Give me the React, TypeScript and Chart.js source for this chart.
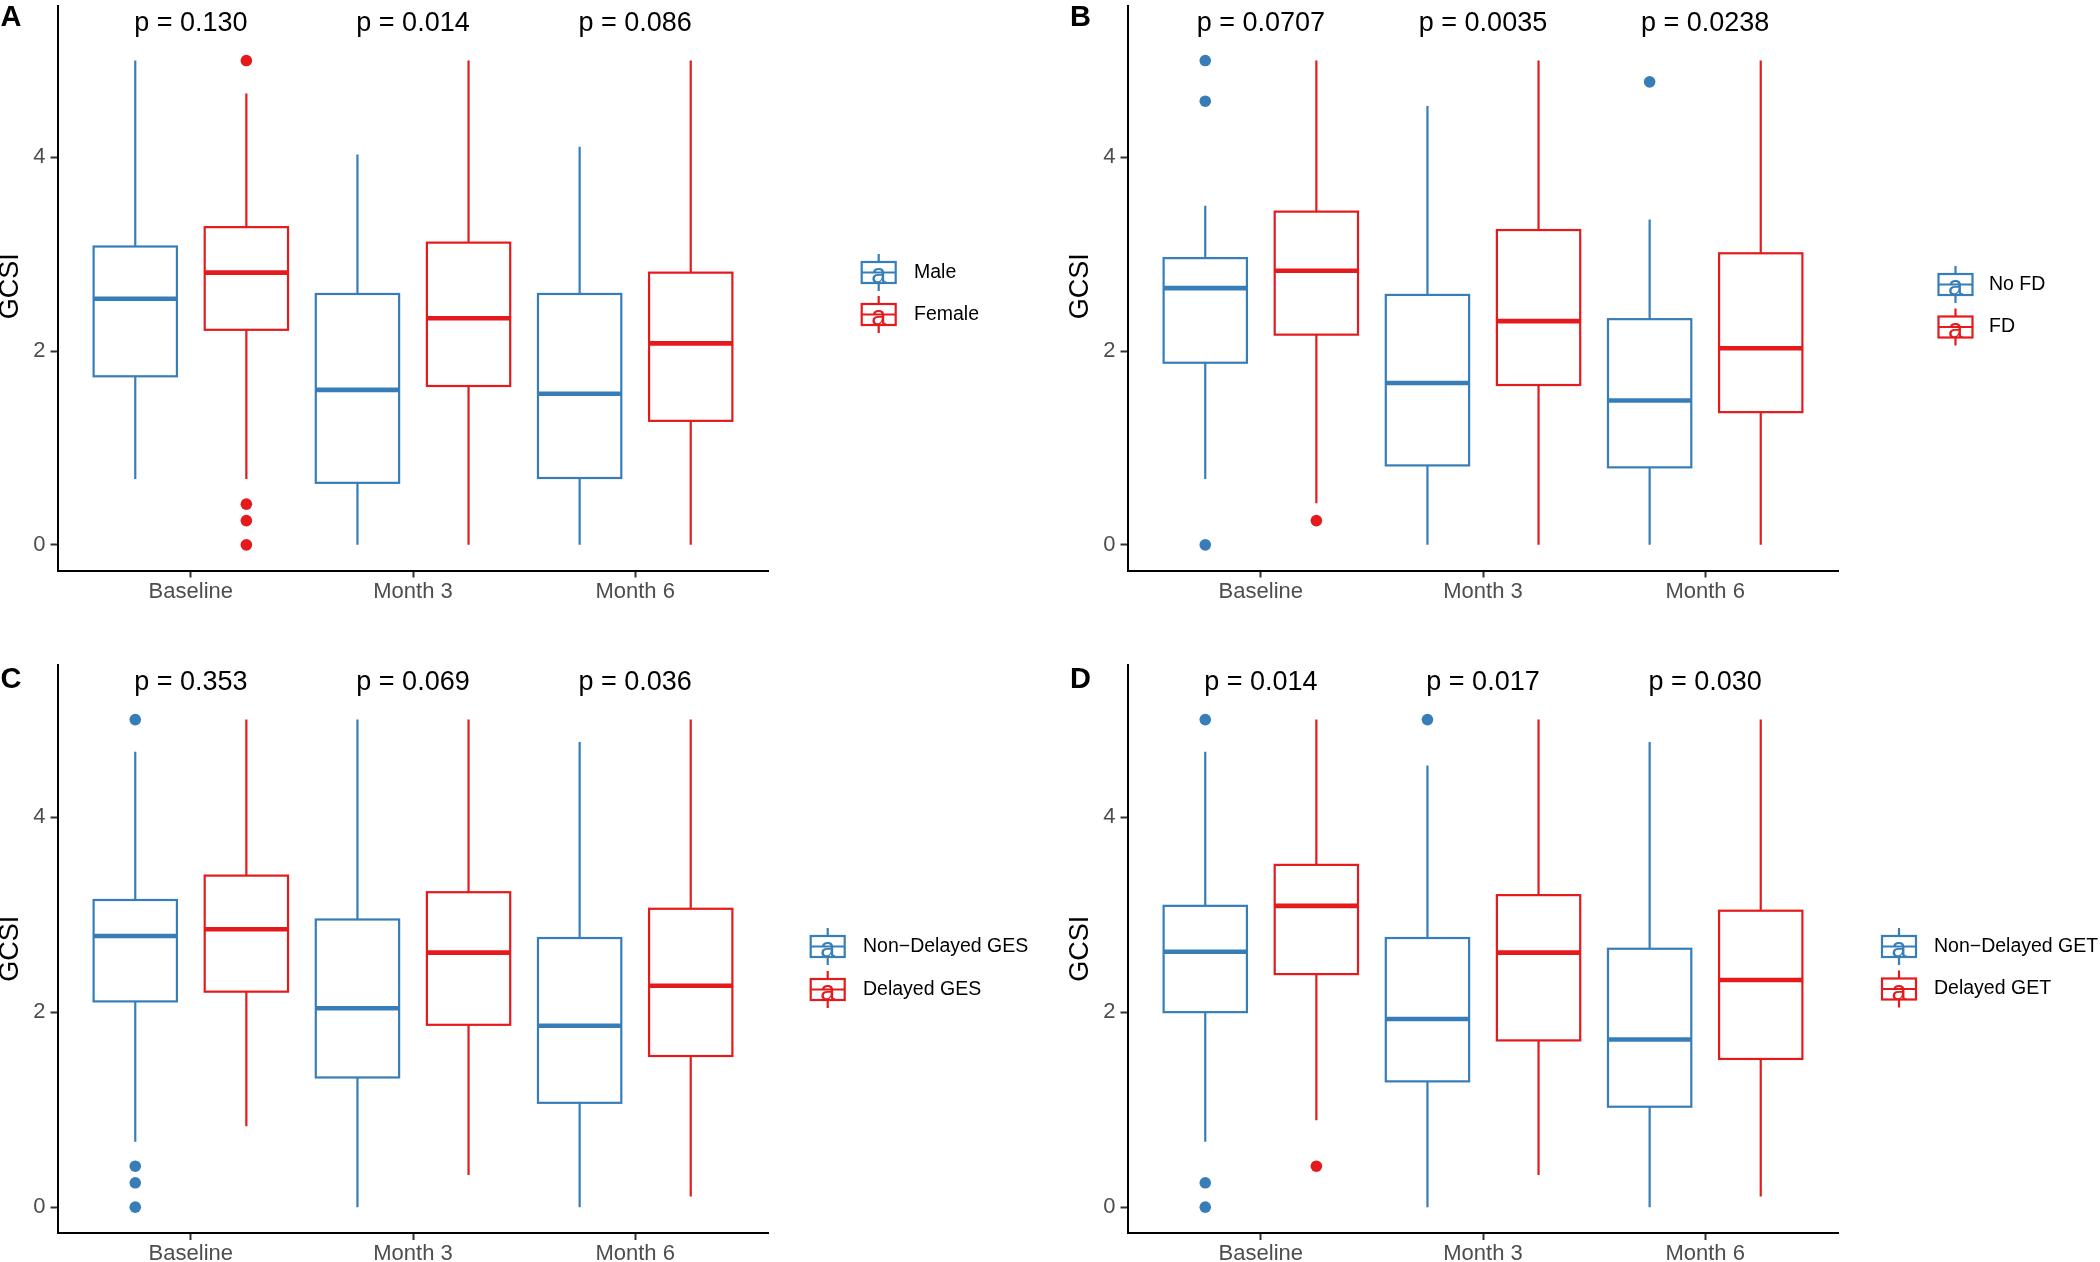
import React, { useEffect, useRef } from "react";
import { Chart, registerables } from "chart.js";

Chart.register(...registerables);

const FONT = "'Liberation Sans', Arial, Helvetica, sans-serif";
const BLUE = "#377EB8";
const RED = "#E41A1C";

const categories = ["Baseline", "Month 3", "Month 6"];
const yTicks = [0, 2, 4];
const pLabelY = 5.3;

// five-number summaries per category: [lower whisker, Q1, median, Q3, upper whisker]
const aMale = [[0.68, 1.74, 2.54, 3.08, 5.0], [0, 0.64, 1.6, 2.59, 4.03], [0, 0.69, 1.56, 2.59, 4.11]];
const aFemale = [[0.68, 2.22, 2.81, 3.28, 4.66], [0, 1.64, 2.34, 3.12, 5.0], [0, 1.28, 2.08, 2.81, 5.0]];
const aMaleOut = [[], [], []];
const aFemaleOut = [[5.0, 0.42, 0.25, 0], [], []];
const aP = ["p = 0.130", "p = 0.014", "p = 0.086"];
const aGroups = ["Male", "Female"];

const bNoFD = [[0.68, 1.88, 2.65, 2.96, 3.5], [0, 0.82, 1.67, 2.58, 4.53], [0, 0.8, 1.49, 2.33, 3.36]];
const bFD = [[0.43, 2.17, 2.83, 3.44, 5.0], [0, 1.65, 2.31, 3.25, 5.0], [0, 1.37, 2.03, 3.01, 5.0]];
const bNoFDOut = [[5.0, 4.58, 0], [], [4.78]];
const bFDOut = [[0.25], [], []];
const bP = ["p = 0.0707", "p = 0.0035", "p = 0.0238"];
const bGroups = ["No FD", "FD"];

const cNonDelayed = [[0.67, 2.11, 2.78, 3.15, 4.67], [0, 1.33, 2.04, 2.95, 5.0], [0, 1.07, 1.86, 2.76, 4.77]];
const cDelayed = [[0.83, 2.21, 2.85, 3.4, 5.0], [0.33, 1.87, 2.61, 3.23, 5.0], [0.11, 1.55, 2.27, 3.06, 5.0]];
const cNonDelayedOut = [[5.0, 0.42, 0.25, 0], [], []];
const cDelayedOut = [[], [], []];
const cP = ["p = 0.353", "p = 0.069", "p = 0.036"];
const cGroups = ["Non\u2212Delayed GES", "Delayed GES"];

const dNonDelayed = [[0.67, 2.0, 2.62, 3.09, 4.67], [0, 1.29, 1.93, 2.76, 4.53], [0, 1.03, 1.72, 2.65, 4.77]];
const dDelayed = [[0.89, 2.39, 3.09, 3.51, 5.0], [0.33, 1.71, 2.61, 3.2, 5.0], [0.11, 1.52, 2.33, 3.04, 5.0]];
const dNonDelayedOut = [[5.0, 0.25, 0], [5.0], []];
const dDelayedOut = [[0.42], [], []];
const dP = ["p = 0.014", "p = 0.017", "p = 0.030"];
const dGroups = ["Non\u2212Delayed GET", "Delayed GET"];

type PanelCfg = {
  letter: string;
  off: { x: number; y: number };
  plot: { l: number; t: number; r: number; b: number };
  letterPos: { x: number; y: number };
  iconX: number;
  textX: number;
  rows: number[];
  stats: number[][][];
  outs: number[][][];
  pLabels: string[];
  groups: string[];
};

const panels: PanelCfg[] = [
  {
    letter: "A", off: { x: 0, y: 0 }, plot: { l: 57.5, t: 2, r: 768.5, b: 570.5 },
    letterPos: { x: 0.5, y: 26 }, iconX: 861.7, textX: 914, rows: [272.5, 314.5],
    stats: [aMale, aFemale], outs: [aMaleOut, aFemaleOut], pLabels: aP, groups: aGroups,
  },
  {
    letter: "B", off: { x: 1050, y: 0 }, plot: { l: 1127.5, t: 2, r: 1838.5, b: 570.5 },
    letterPos: { x: 1070, y: 26 }, iconX: 1938.5, textX: 1989, rows: [284.5, 327],
    stats: [bNoFD, bFD], outs: [bNoFDOut, bFDOut], pLabels: bP, groups: bGroups,
  },
  {
    letter: "C", off: { x: 0, y: 631 }, plot: { l: 57.5, t: 664.5, r: 768.5, b: 1233 },
    letterPos: { x: 0.5, y: 688 }, iconX: 810.7, textX: 863, rows: [946.5, 989.5],
    stats: [cNonDelayed, cDelayed], outs: [cNonDelayedOut, cDelayedOut], pLabels: cP, groups: cGroups,
  },
  {
    letter: "D", off: { x: 1050, y: 631 }, plot: { l: 1127.5, t: 664.5, r: 1838.5, b: 1233 },
    letterPos: { x: 1070, y: 688 }, iconX: 1882, textX: 1934, rows: [946.5, 989],
    stats: [dNonDelayed, dDelayed], outs: [dNonDelayedOut, dDelayedOut], pLabels: dP, groups: dGroups,
  },
];

const COLORS = [BLUE, RED];
const DODGE = [-0.25, 0.25];
const HALF = 0.1875;
const W = 1050;
const H = 631;

function Panel({ cfg }: { cfg: PanelCfg }) {
  const ref = useRef<HTMLCanvasElement | null>(null);
  useEffect(() => {
    const canvas = ref.current;
    if (!canvas) return;
    const yWidth = cfg.plot.l - cfg.off.x;
    const xHeight = cfg.off.y + H - cfg.plot.b;

    const datasets = cfg.outs.map((groupOut, g) => ({
      label: cfg.groups[g],
      data: groupOut.flatMap((vals, i) => vals.map((v) => ({ x: i + 1 + DODGE[g], y: v }))),
      backgroundColor: COLORS[g],
      borderColor: COLORS[g],
      borderWidth: 0,
      pointRadius: 5.8,
      pointHoverRadius: 5.8,
    }));

    const custom = {
      id: "boxCustom",
      beforeDatasetsDraw(chart: any) {
        const ctx = chart.ctx;
        const xs = chart.scales.x;
        const ys = chart.scales.y;
        ctx.save();
        cfg.stats.forEach((groupStats, g) => {
          groupStats.forEach((s, i) => {
            const c = i + 1 + DODGE[g];
            const xl = xs.getPixelForValue(c - HALF);
            const xr = xs.getPixelForValue(c + HALF);
            const xc = xs.getPixelForValue(c);
            const [lo, q1, med, q3, hi] = s.map((v) => ys.getPixelForValue(v));
            ctx.strokeStyle = COLORS[g];
            ctx.lineWidth = 2.2;
            ctx.lineCap = "butt";
            ctx.beginPath();
            ctx.moveTo(xc, hi);
            ctx.lineTo(xc, q3);
            ctx.moveTo(xc, q1);
            ctx.lineTo(xc, lo);
            ctx.stroke();
            ctx.fillStyle = "#ffffff";
            ctx.fillRect(xl, q3, xr - xl, q1 - q3);
            ctx.strokeRect(xl, q3, xr - xl, q1 - q3);
            ctx.lineWidth = 4.6;
            ctx.beginPath();
            ctx.moveTo(xl, med);
            ctx.lineTo(xr, med);
            ctx.stroke();
          });
        });
        ctx.restore();
      },
      afterDraw(chart: any) {
        const ctx = chart.ctx;
        const xs = chart.scales.x;
        const ys = chart.scales.y;
        const ox = cfg.off.x;
        const oy = cfg.off.y;
        ctx.save();
        // p labels
        ctx.fillStyle = "#000000";
        ctx.font = `27px ${FONT}`;
        ctx.textAlign = "center";
        ctx.textBaseline = "alphabetic";
        cfg.pLabels.forEach((t, i) => {
          ctx.fillText(t, xs.getPixelForValue(i + 1), ys.getPixelForValue(pLabelY));
        });
        // panel letter
        ctx.font = `bold 29px ${FONT}`;
        ctx.textAlign = "left";
        ctx.fillText(cfg.letter, cfg.letterPos.x - ox, cfg.letterPos.y - oy);
        // y title
        ctx.save();
        ctx.font = `27px ${FONT}`;
        ctx.textAlign = "center";
        ctx.textBaseline = "middle";
        ctx.translate(cfg.plot.l - 46.5 - ox, (cfg.plot.t + cfg.plot.b) / 2 - oy);
        ctx.rotate(-Math.PI / 2);
        ctx.fillText("GCSI", 0, 0);
        ctx.restore();
        // legend
        cfg.groups.forEach((name, g) => {
          const ry = cfg.rows[g] - oy;
          const ix = cfg.iconX - ox;
          const cx = ix + 17;
          ctx.strokeStyle = COLORS[g];
          ctx.lineWidth = 2.2;
          ctx.beginPath();
          ctx.moveTo(cx, ry - 18.5);
          ctx.lineTo(cx, ry + 18.5);
          ctx.stroke();
          ctx.fillStyle = "#ffffff";
          ctx.fillRect(ix, ry - 10.5, 34, 21);
          ctx.strokeRect(ix, ry - 10.5, 34, 21);
          ctx.beginPath();
          ctx.moveTo(ix, ry);
          ctx.lineTo(ix + 34, ry);
          ctx.stroke();
          ctx.fillStyle = COLORS[g];
          ctx.font = `27px ${FONT}`;
          ctx.textAlign = "center";
          ctx.textBaseline = "alphabetic";
          ctx.fillText("a", cx, ry + 10.5);
          ctx.fillStyle = "#000000";
          ctx.font = `19.5px ${FONT}`;
          ctx.textAlign = "left";
          ctx.textBaseline = "middle";
          ctx.fillText(name, cfg.textX - ox, ry);
        });
        ctx.restore();
      },
    };

    const chart = new Chart(canvas, {
      type: "scatter",
      data: { datasets } as any,
      options: {
        animation: false,
        responsive: false,
        devicePixelRatio: 1,
        events: [],
        layout: {
          padding: {
            left: 0,
            top: cfg.plot.t - cfg.off.y,
            right: cfg.off.x + W - cfg.plot.r,
            bottom: 0,
          },
        },
        plugins: {
          legend: { display: false },
          tooltip: { enabled: false },
          title: { display: false },
        },
        scales: {
          x: {
            type: "linear",
            min: 0.4,
            max: 3.6,
            afterBuildTicks: (scale: any) => {
              scale.ticks = categories.map((_, i) => ({ value: i + 1 }));
            },
            afterFit: (scale: any) => {
              scale.height = xHeight;
              scale.paddingLeft = 0;
              scale.paddingRight = 0;
            },
            ticks: {
              autoSkip: false,
              maxRotation: 0,
              padding: 1,
              color: "#4D4D4D",
              font: { family: FONT, size: 22 },
              callback: (v: any) => categories[Math.round(Number(v)) - 1] ?? "",
            },
            grid: {
              drawOnChartArea: false,
              drawTicks: true,
              tickLength: 7,
              tickWidth: 2,
              tickColor: "#333333",
            },
            border: { display: true, color: "#000000", width: 2 },
          },
          y: {
            type: "linear",
            min: -0.265,
            max: 5.565,
            afterBuildTicks: (scale: any) => {
              scale.ticks = yTicks.map((v) => ({ value: v }));
            },
            afterFit: (scale: any) => {
              scale.width = yWidth;
              scale.paddingTop = 0;
              scale.paddingBottom = 0;
            },
            ticks: {
              autoSkip: false,
              padding: 5,
              color: "#4D4D4D",
              font: { family: FONT, size: 22 },
              callback: (v: any) => String(v),
            },
            grid: {
              drawOnChartArea: false,
              drawTicks: true,
              tickLength: 7,
              tickWidth: 2,
              tickColor: "#333333",
            },
            border: { display: true, color: "#000000", width: 2 },
          },
        },
      },
      plugins: [custom],
    } as any);
    return () => chart.destroy();
  }, [cfg]);

  return (
    <canvas
      ref={ref}
      width={W}
      height={H}
      style={{ position: "absolute", left: cfg.off.x, top: cfg.off.y, width: W, height: H }}
    />
  );
}

export default function App() {
  return (
    <div
      style={{
        position: "absolute",
        left: 0,
        top: 0,
        width: 2100,
        height: 1262,
        background: "#ffffff",
        overflow: "hidden",
      }}
    >
      {panels.map((p) => (
        <Panel key={p.letter} cfg={p} />
      ))}
    </div>
  );
}
